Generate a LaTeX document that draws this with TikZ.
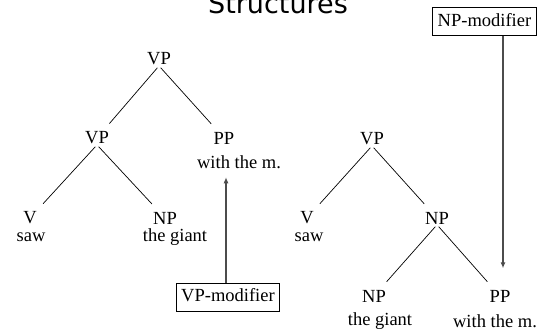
\documentclass[tikz,border=0pt]{standalone}
\usepackage{fontspec}
\setmainfont{Liberation Serif}
\newfontfamily\titlefont{DejaVu Sans}
\usetikzlibrary{arrows.meta}
\begin{document}
\begin{tikzpicture}[x=1pt,y=-1pt,
  cat/.style={font=\fontsize{18.5}{20}\selectfont, inner sep=0.5pt},
  word/.style={font=\fontsize{18.5}{20}\selectfont, inner sep=0.5pt},
  modbox/.style={draw, line width=0.8pt, font=\fontsize{18.5}{20}\selectfont, inner xsep=5pt, inner ysep=5.5pt, text height=13pt, text depth=4pt},
  branch/.style={line width=0.7pt, shorten <=2.5pt, shorten >=10pt},
  modarrow/.style={draw=black!70, line width=1.1pt, -{Latex[length=6pt,width=5pt]}}]
\useasboundingbox (0,0) rectangle (541,333);
% title
\node[font=\titlefont\fontsize{27}{30}\selectfont, anchor=base, inner sep=0] (title) at (278,13) {Structures};
% left tree
\node[cat] (lvp) at (159,59) {VP};
\node[cat] (lvp2) at (97,138) {VP};
\node[cat] (lpp) at (224,138) {PP};
\node[word] (lppw) at (239,162) {with the m.};
\node[cat] (lv) at (30,218) {V};
\node[word] (lvw) at (31,237) {saw};
\node[cat] (lnp) at (165,218) {NP};
\node[word] (lnpw) at (175,237) {the giant};
\node[modbox] (vpmod) at (228,297) {VP-modifier};
\draw[branch] (lvp.south) -- (lvp2);
\draw[branch] (lvp.south) -- (lpp);
\draw[branch] (lvp2.south) -- (lv);
\draw[branch] (lvp2.south) -- (lnp);
\draw[modarrow] ([xshift=-2pt]vpmod.north) -- ([xshift=-2pt]vpmod.north |- lppw.south) [shorten >=8pt];
% right tree
\node[cat] (rvp) at (372,139) {VP};
\node[cat] (rv) at (307,218) {V};
\node[word] (rvw) at (309,237) {saw};
\node[cat] (rnp) at (437,218) {NP};
\node[cat] (rnp2) at (374,296) {NP};
\node[word] (rnp2w) at (380,321) {the giant};
\node[cat] (rpp) at (500,296) {PP};
\node[word] (rppw) at (495,321) {with the m.};
\node[modbox] (npmod) at (484.5,21.5) {NP-modifier};
\draw[branch] (rvp.south) -- (rv);
\draw[branch] (rvp.south) -- (rnp);
\draw[branch] (rnp.south) -- (rnp2);
\draw[branch] (rnp.south) -- (rpp);
\draw[modarrow] ([xshift=18.5pt]npmod.south) -- ([xshift=18.5pt]npmod.south |- rpp.north) [shorten >=21pt];
\end{tikzpicture}
\end{document}
